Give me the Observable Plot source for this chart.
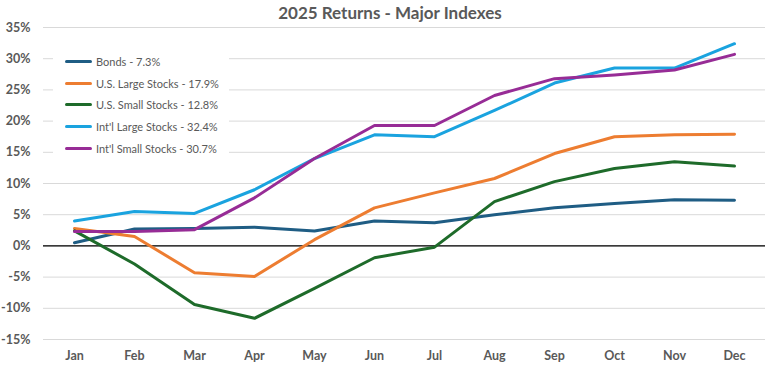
<!DOCTYPE html>
<html>
<head>
<meta charset="utf-8">
<script src="https://cdn.jsdelivr.net/npm/d3@7"></script>
<script src="https://cdn.jsdelivr.net/npm/@observablehq/plot@0.6"></script>
<style>
  html, body { margin: 0; padding: 0; background: #fff; }
  #wrap { position: relative; width: 776px; height: 367px; font-family: Lato, "Open Sans", sans-serif; }
  #title { position: absolute; left: 0; width: 776px; top: 2px; text-align: center; padding-left: 2px;
           font-size: 17px; font-weight: bold; color: #595959; }
  #legend { position: absolute; left: 53px; top: 42px; width: 176px; height: 116px; background: #fff; }
  .item { position: absolute; left: 12px; height: 14px; display: flex; align-items: center;
          font-size: 11px; color: #595959; white-space: nowrap; }
  .sw { width: 27px; height: 3px; border-radius: 1.5px; margin-right: 4px; }
</style>
</head>
<body>
<div id="wrap">
  <div id="chart"></div>
  <div id="title"></div>
  <div id="legend"></div>
</div>
<script>
const title = "2025 Returns - Major Indexes";
const months = ["Jan","Feb","Mar","Apr","May","Jun","Jul","Aug","Sep","Oct","Nov","Dec"];
const seriesNames = ["Bonds - 7.3%", "U.S. Large Stocks - 17.9%", "U.S. Small Stocks - 12.8%", "Int'l Large Stocks - 32.4%", "Int'l Small Stocks - 30.7%"];
const seriesColors = ["#1F5D84", "#ED7D31", "#1E6B2A", "#1AA3DF", "#972C96"];
const bonds     = [0.5, 2.7, 2.8, 3.0, 2.4, 4.0, 3.7, 5.0, 6.1, 6.8, 7.4, 7.3];
const usLarge   = [2.8, 1.5, -4.3, -4.9, 1.0, 6.1, 8.5, 10.8, 14.8, 17.5, 17.8, 17.9];
const usSmall   = [2.4, -2.9, -9.4, -11.6, -6.8, -1.9, -0.2, 7.1, 10.3, 12.4, 13.5, 12.8];
const intlLarge = [4.0, 5.5, 5.2, 9.0, 14.0, 17.8, 17.5, 21.7, 26.1, 28.5, 28.5, 32.4];
const intlSmall = [2.3, 2.3, 2.6, 7.7, 14.0, 19.3, 19.3, 24.1, 26.8, 27.4, 28.2, 30.7];
const yTicks = [-15, -10, -5, 0, 5, 10, 15, 20, 25, 30, 35];

const allSeries = [bonds, usLarge, usSmall, intlLarge, intlSmall];
const data = allSeries.flatMap((vals, i) => vals.map((v, j) => ({series: seriesNames[i], month: months[j], value: v})));

const chart = Plot.plot({
  width: 776,
  height: 367,
  marginTop: 27,
  marginBottom: 28,
  marginLeft: 43,
  marginRight: 11,
  style: { fontFamily: "Lato, 'Open Sans', sans-serif", background: "#fff" },
  x: { type: "point", domain: months, padding: 0.5 },
  y: { domain: [-15, 35] },
  color: { domain: seriesNames, range: seriesColors },
  marks: [
    Plot.gridY(yTicks, { stroke: "#d9d9d9", strokeOpacity: 1, strokeWidth: 1 }),
    Plot.ruleY([0], { stroke: "#000", strokeWidth: 1.2 }),
    Plot.line(data, { x: "month", y: "value", z: "series", stroke: "series", strokeWidth: 3, strokeLinejoin: "round", strokeLinecap: "round" }),
    Plot.axisY(yTicks, { tickSize: 0, tickPadding: 13, tickFormat: d => d + "%", fontSize: 12.5, fontWeight: "bold", fill: "#595959", label: null }),
    Plot.axisX(months, { tickSize: 0, tickPadding: 12, fontSize: 12.5, fontWeight: "bold", fill: "#595959", label: null })
  ]
});
document.getElementById("chart").appendChild(chart);
document.getElementById("title").textContent = title;

const legend = document.getElementById("legend");
const rowCenters = [19, 41, 62, 84, 106];
seriesNames.forEach((name, i) => {
  const item = document.createElement("div");
  item.className = "item";
  item.style.top = (rowCenters[i] - 7) + "px";
  const sw = document.createElement("div");
  sw.className = "sw";
  sw.style.background = seriesColors[i];
  const t = document.createElement("span");
  t.textContent = name;
  item.appendChild(sw);
  item.appendChild(t);
  legend.appendChild(item);
});
</script>
</body>
</html>
